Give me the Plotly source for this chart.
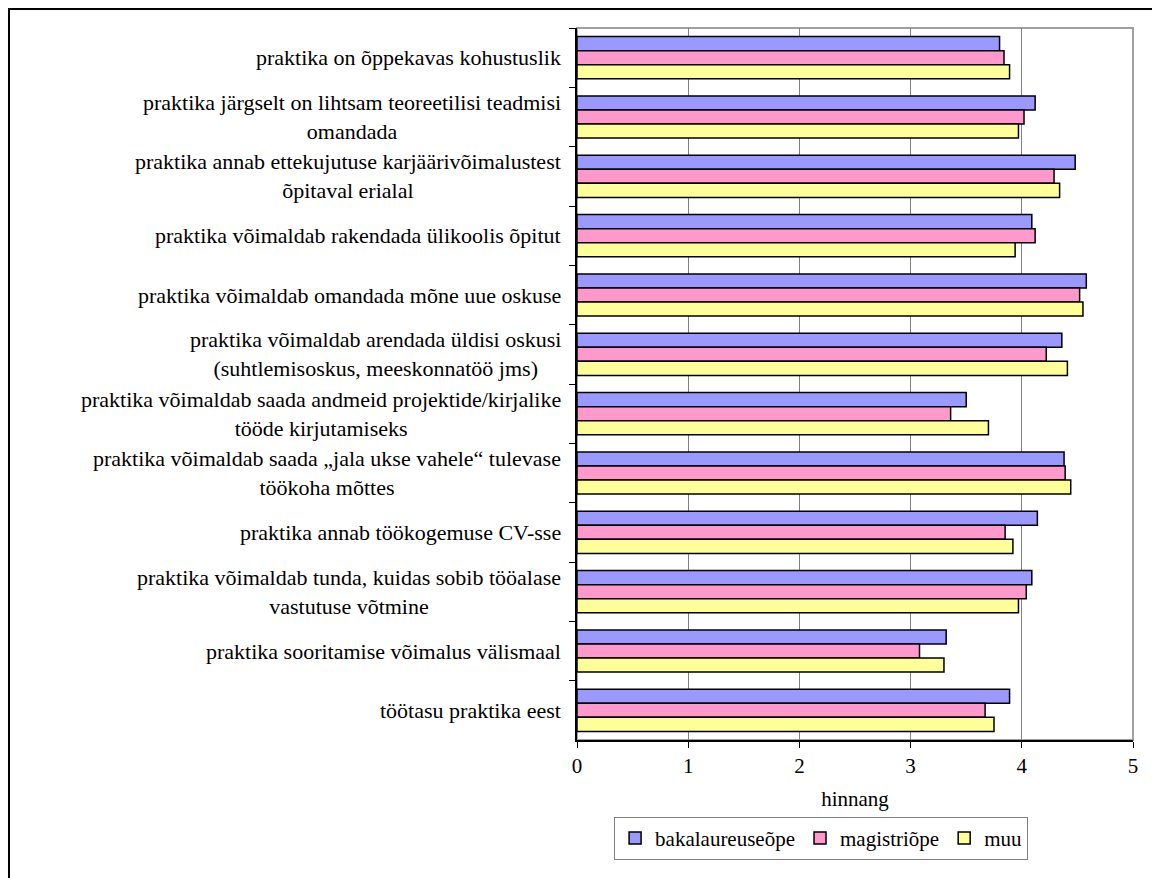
import plotly.graph_objects as go

categories = [
    "praktika on õppekavas kohustuslik",
    "praktika järgselt on lihtsam teoreetilisi teadmisi<br>omandada",
    "praktika annab ettekujutuse karjäärivõimalustest<br>õpitaval erialal",
    "praktika võimaldab rakendada ülikoolis õpitut",
    "praktika võimaldab omandada mõne uue oskuse",
    "praktika võimaldab arendada üldisi oskusi<br>(suhtlemisoskus, meeskonnatöö jms)",
    "praktika võimaldab saada andmeid projektide/kirjalike<br>tööde kirjutamiseks",
    "praktika võimaldab saada „jala ukse vahele“ tulevase<br>töökoha mõttes",
    "praktika annab töökogemuse CV-sse",
    "praktika võimaldab tunda, kuidas sobib tööalase<br>vastutuse võtmine",
    "praktika sooritamise võimalus välismaal",
    "töötasu praktika eest",
]

bakalaureuseope = [3.80, 4.12, 4.48, 4.09, 4.58, 4.36, 3.50, 4.38, 4.14, 4.09, 3.32, 3.89]
magistriope = [3.84, 4.02, 4.29, 4.12, 4.52, 4.22, 3.36, 4.39, 3.85, 4.04, 3.08, 3.67]
muu = [3.89, 3.97, 4.34, 3.94, 4.55, 4.41, 3.70, 4.44, 3.92, 3.97, 3.30, 3.75]

series_names = ["bakalaureuseõpe", "magistriõpe", "muu"]
series_values = [bakalaureuseope, magistriope, muu]
series_colors = ["#9999FF", "#FF99CC", "#FFFF99"]

x_ticks = [0, 1, 2, 3, 4, 5]

FONT = "Times New Roman, Liberation Serif, DejaVu Serif"

fig = go.Figure()
for name, vals, col in zip(series_names, series_values, series_colors):
    fig.add_trace(go.Bar(
        y=categories, x=vals, name=name, orientation="h",
        marker=dict(color=col, line=dict(color="black", width=1.5)),
    ))

annotations = []
for c in categories:
    annotations.append(dict(
        xref="x domain", yref="y", x=0, y=c, text=c,
        xanchor="right", yanchor="middle", align="center",
        xshift=-14, showarrow=False,
        font=dict(family=FONT, size=22, color="black"),
    ))

fig.update_layout(
    width=1152, height=878,
    margin=dict(l=577, r=19, t=28, b=138),
    paper_bgcolor="white", plot_bgcolor="white",
    barmode="group", bargap=0.29, bargroupgap=0,
    font=dict(family=FONT, size=21, color="black"),
    showlegend=True,
    legend=dict(
        orientation="h", x=0.439, xanchor="center", y=-0.108, yanchor="top",
        bordercolor="#808080", borderwidth=1, bgcolor="white",
        font=dict(family=FONT, size=21, color="black"),
        traceorder="normal", itemwidth=30,
    ),
    xaxis=dict(
        range=[0, 5], tickvals=x_ticks, ticktext=[str(t) for t in x_ticks],
        showgrid=True, gridcolor="#808080", gridwidth=1,
        showline=True, linecolor="black", linewidth=1.5,
        ticks="outside", ticklen=6, tickcolor="black",
        zeroline=False,
        title=dict(text="hinnang", standoff=14, font=dict(family=FONT, size=21)),
        tickfont=dict(family=FONT, size=21),
    ),
    yaxis=dict(
        autorange="reversed", showticklabels=False,
        showline=True, linecolor="black", linewidth=1.5,
        ticks="outside", ticklen=6, tickcolor="black", tickson="boundaries",
        showgrid=False, zeroline=False,
    ),
    annotations=annotations,
    shapes=[
        dict(type="rect", xref="paper", yref="paper", x0=0, x1=1, y0=0, y1=1,
             line=dict(color="#A0A0A0", width=2), layer="below"),
        dict(type="rect", xref="paper", yref="paper",
             x0=-1.0216, x1=1.1, y0=-0.21, y1=1.0267,
             line=dict(color="black", width=2), layer="above"),
    ],
)

fig.write_html("out.html")
